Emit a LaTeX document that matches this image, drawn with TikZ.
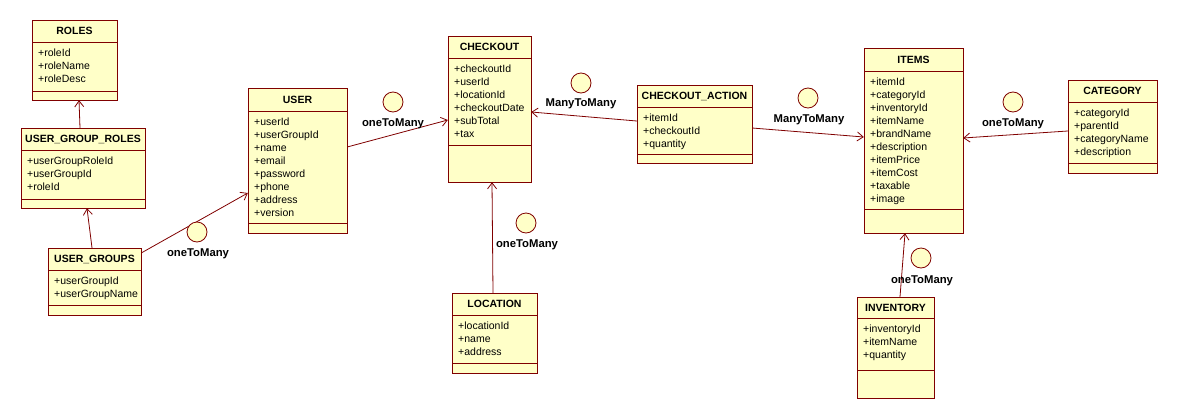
\documentclass[tikz,border=0pt]{standalone}
\usepackage{fontspec}
\setmainfont{Liberation Sans}
\usetikzlibrary{arrows.meta,fit}
\definecolor{umlfill}{RGB}{255,255,200}
\definecolor{umlline}{RGB}{128,0,0}
\tikzset{
  clsbox/.style={draw=umlline, fill=umlfill, line width=0.9pt},
  clsline/.style={draw=umlline, line width=0.9pt},
  clstitle/.style={inner sep=0pt, font=\fontsize{10.5}{13}\selectfont\bfseries},
  clsattr/.style={inner sep=0pt, anchor=north west, align=left, font=\fontsize{10.5}{13}\selectfont},
  assoc/.style={draw=umlline, line width=0.8pt, -{Straight Barb[length=6pt,width=9pt,line width=0.8pt]}},
  relcircle/.style={circle, draw=umlline, fill=umlfill, line width=0.8pt, minimum size=20pt, inner sep=0pt},
  rellabel/.style={inner sep=0pt, font=\fontsize{11.3}{13}\selectfont\bfseries},
}
% #1 name, #2 x1, #3 y1, #4 x2, #5 y2, #6 title sep, #7 attr sep, #8 title, #9 attributes
\newcommand{\umlclass}[9]{%
  \draw[clsbox] (#2,#3) rectangle (#4,#5);
  \draw[clsline] (#2,#6) -- (#4,#6);
  \draw[clsline] (#2,#7) -- (#4,#7);
  \node[clstitle] (#1-title) at ({(#2+#4)/2},{(#3+#6)/2}) {#8};
  \node[clsattr] (#1-attrs) at (#2+6,#6+7) {#9};
  \node[fit={(#2,#3) (#4,#5)}, inner sep=0pt] (#1) {};
}
\begin{document}
\begin{tikzpicture}[x=1pt,y=-1pt]
\fill[white] (0,0) rectangle (1178,410);
\useasboundingbox (0,0) rectangle (1178,410);

\umlclass{roles}{32}{20}{117}{100}{42}{91}{ROLES}{+roleId\\+roleName\\+roleDesc}
\umlclass{ugr}{21}{128}{145}{208}{150}{199}{USER\_GROUP\_ROLES}{+userGroupRoleId\\+userGroupId\\+roleId}
\umlclass{usergroups}{48}{248}{141}{315}{270}{305}{USER\_GROUPS}{+userGroupId\\+userGroupName}
\umlclass{user}{248}{88}{347}{233}{111}{223}{USER}{+userId\\+userGroupId\\+name\\+email\\+password\\+phone\\+address\\+version}
\umlclass{checkout}{448}{36}{531}{182}{58}{145}{CHECKOUT}{+checkoutId\\+userId\\+locationId\\+checkoutDate\\+subTotal\\+tax}
\umlclass{ca}{637}{85}{752}{163}{107}{154}{CHECKOUT\_ACTION}{+itemId\\+checkoutId\\+quantity}
\umlclass{items}{864}{48}{963}{233}{71}{209}{ITEMS}{+itemId\\+categoryId\\+inventoryId\\+itemName\\+brandName\\+description\\+itemPrice\\+itemCost\\+taxable\\+image}
\umlclass{category}{1068}{80}{1157}{173}{102}{163}{CATEGORY}{+categoryId\\+parentId\\+categoryName\\+description}
\umlclass{location}{452}{293}{537}{373}{315}{363}{LOCATION}{+locationId\\+name\\+address}
\umlclass{inventory}{857}{297}{934}{398}{318}{370}{INVENTORY}{+inventoryId\\+itemName\\+quantity}

% connectors
\draw[assoc] (ugr.north -| 80,0) -- (roles.south -| 79,0);
\draw[assoc] (usergroups.north -| 92,0) -- (ugr.south -| 87,0);
\draw[assoc] (usergroups.east |- 0,253) -- (user.west |- 0,193);
\draw[assoc] (user.east |- 0,147) -- (checkout.west |- 0,120);
\draw[assoc] (ca.west |- 0,121) -- (checkout.east |- 0,112);
\draw[assoc] (ca.east |- 0,128) -- (items.west |- 0,137);
\draw[assoc] (category.west |- 0,131) -- (items.east |- 0,138);
\draw[assoc] (location.north -| 493,0) -- (checkout.south -| 492,0);
\draw[assoc] (inventory.north -| 900,0) -- (items.south -| 905,0);

% association markers and labels
\node[relcircle] (c1) at (197,232) {};
\node[rellabel] (l1) at (198,254) {oneToMany};
\node[relcircle] (c2) at (393,102) {};
\node[rellabel] (l2) at (393,124) {oneToMany};
\node[relcircle] (c3) at (581,83) {};
\node[rellabel] (l3) at (581,104) {ManyToMany};
\node[relcircle] (c4) at (808,98) {};
\node[rellabel] (l4) at (809,120) {ManyToMany};
\node[relcircle] (c5) at (1013,102) {};
\node[rellabel] (l5) at (1013,124) {oneToMany};
\node[relcircle] (c6) at (526,223) {};
\node[rellabel] (l6) at (527,245) {oneToMany};
\node[relcircle] (c7) at (921,258) {};
\node[rellabel] (l7) at (922,281) {oneToMany};
\end{tikzpicture}
\end{document}
